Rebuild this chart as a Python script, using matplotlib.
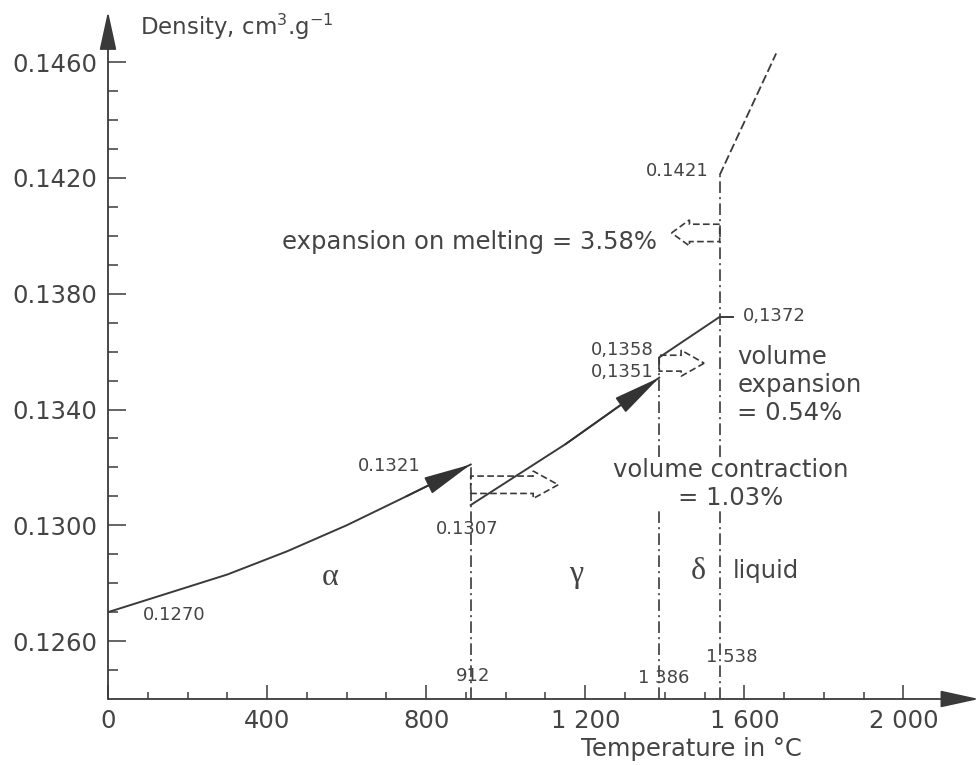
import numpy as np
import matplotlib
matplotlib.use("Agg")
import matplotlib.pyplot as plt
from matplotlib.patches import FancyArrow

plt.rcParams['font.family'] = ['DejaVu Sans']

INK = '#3a3a3a'

# specific volume of iron vs temperature (cm3/g)
alpha_T = [0, 150, 300, 450, 600, 750, 912]
alpha_v = [0.1270, 0.12765, 0.1283, 0.1291, 0.1300, 0.1310, 0.1321]
gamma_T = [912, 1150, 1386]
gamma_v = [0.1307, 0.1328, 0.1351]
delta_T = [1386, 1538]
delta_v = [0.1358, 0.1372]
liquid_T = [1538, 1680]
liquid_v = [0.1421, 0.1463]

# phase transition temperatures and the value at the top of each divider
trans_T = [912, 1386, 1538]
trans_top = [0.1321, 0.1358, 0.1421]

x_major = [0, 400, 800, 1200, 1600, 2000]
x_labels = ['0', '400', '800', '1 200', '1 600', '2 000']
y_major = [0.1260, 0.1300, 0.1340, 0.1380, 0.1420, 0.1460]

fig = plt.figure(figsize=(9.77, 7.65), dpi=100)
ax = fig.add_axes([108 / 977, 66 / 765, 871 / 977, 689 / 765])
ax.set_xlim(0, 2190)
ax.set_ylim(0.1240, 0.1478)
for s in ax.spines.values():
    s.set_visible(False)

# axes drawn as arrows
arr = dict(arrowstyle='-|>,head_length=1.6,head_width=0.35', color=INK, lw=1.3,
           shrinkA=0, shrinkB=0, mutation_scale=15)
ax.annotate('', xy=(2190, 0.1240), xytext=(0, 0.1240), arrowprops=arr, annotation_clip=False)
ax.annotate('', xy=(0, 0.14775), xytext=(0, 0.1240), arrowprops=arr, annotation_clip=False)

ax.set_xticks(x_major)
ax.set_xticklabels(x_labels)
ax.set_xticks(np.arange(100, 2001, 100), minor=True)
ax.set_yticks(y_major)
ax.set_yticklabels(['%.4f' % v for v in y_major])
ax.set_yticks([v / 10000 for v in range(1250, 1461, 10)], minor=True)
ax.tick_params(axis='both', which='both', direction='in', color=INK, width=1.1,
               labelcolor='#444444', labelsize=17.5)
ax.tick_params(axis='x', which='major', length=10, pad=7)
ax.tick_params(axis='x', which='minor', length=5)
ax.tick_params(axis='y', which='major', length=13, pad=8)
ax.tick_params(axis='y', which='minor', length=7)

ax.text(80, 0.14721, 'Density, cm$^3$.g$^{-1}$', fontsize=16.5, color='#444444',
        ha='left', va='center', clip_on=False)
ax.text(1467, 0.12227, 'Temperature in \u00b0C', fontsize=17.5, color='#444444',
        ha='center', va='center', clip_on=False)

# phase dividers
for t, top in zip(trans_T, trans_top):
    ax.plot([t, t], [0.1240, top], color=INK, lw=1.2, ls=(0, (7, 2.5, 1.2, 2.5)))

# phase curves with arrow heads
head = dict(arrowstyle='-|>,head_length=1.5,head_width=0.28', color='#333333', lw=1.3,
            shrinkA=0, shrinkB=0, mutation_scale=20)
for T, v in [(alpha_T, alpha_v), (gamma_T, gamma_v)]:
    ax.plot(T, v, color=INK, lw=1.4)
    ax.annotate('', xy=(T[-1], v[-1]), xytext=(T[-2], v[-2]), arrowprops=head)
ax.plot(delta_T, delta_v, color=INK, lw=1.4)
ax.plot([delta_T[-1], delta_T[-1] + 34], [delta_v[-1], delta_v[-1]], color=INK, lw=1.4)
ax.plot(liquid_T, liquid_v, color=INK, lw=1.3, ls=(0, (5, 2)))

# hollow arrows showing the volume jumps
hollow = dict(length_includes_head=True, fill=False, ec=INK, lw=1.2, ls=(0, (4, 2)))
ax.add_patch(FancyArrow(912, 0.1314, 220, 0, width=0.0006, head_width=0.00095,
                        head_length=63, **hollow))
ax.add_patch(FancyArrow(1386, 0.1356, 113, 0, width=0.00055, head_width=0.0009,
                        head_length=58, **hollow))
ax.add_patch(FancyArrow(1538, 0.1401, -121, 0, width=0.0006, head_width=0.0009,
                        head_length=45, **hollow))

# value labels
small = dict(fontsize=13, color='#444444')
ax.text(88, 0.1269, '0.1270', ha='left', va='center', **small)
ax.text(785, 0.13205, '0.1321', ha='right', va='center', **small)
ax.text(903, 0.12987, '0.1307', ha='center', va='center', **small)
ax.text(1371, 0.13606, '0,1358', ha='right', va='center', **small)
ax.text(1371, 0.13530, '0,1351', ha='right', va='center', **small)
ax.text(1596, 0.13723, '0,1372', ha='left', va='center', **small)
ax.text(1510, 0.14224, '0.1421', ha='right', va='center', **small)
ax.text(918, 0.12479, '912', ha='center', va='center', **small)
ax.text(1396, 0.12473, '1 386', ha='center', va='center', **small)
ax.text(1568, 0.12545, '1 538', ha='center', va='center', **small)

# phase names
greek = dict(fontsize=23, color='#444444', family='Liberation Serif', ha='center', va='center')
ax.text(558, 0.1282, '\u03b1', **greek)
ax.text(1178, 0.1283, '\u03b3', **greek)
ax.text(1484, 0.12842, '\u03b4', **greek)
ax.text(1572, 0.12842, 'liquid', fontsize=17.5, color='#444444', ha='left', va='center')

big = dict(fontsize=17.5, color='#444444')
ax.text(1381, 0.13979, 'expansion on melting = 3.58%', ha='right', va='center', **big)
ax.text(1582, 0.13485, 'volume\nexpansion\n= 0.54%', ha='left', va='center',
        linespacing=1.2, **big)
ax.text(1565, 0.13143, 'volume contraction\n= 1.03%', ha='center', va='center',
        multialignment='center', linespacing=1.17,
        bbox=dict(fc='white', ec='none', pad=1), **big)

fig.savefig('out.png', dpi=100)
